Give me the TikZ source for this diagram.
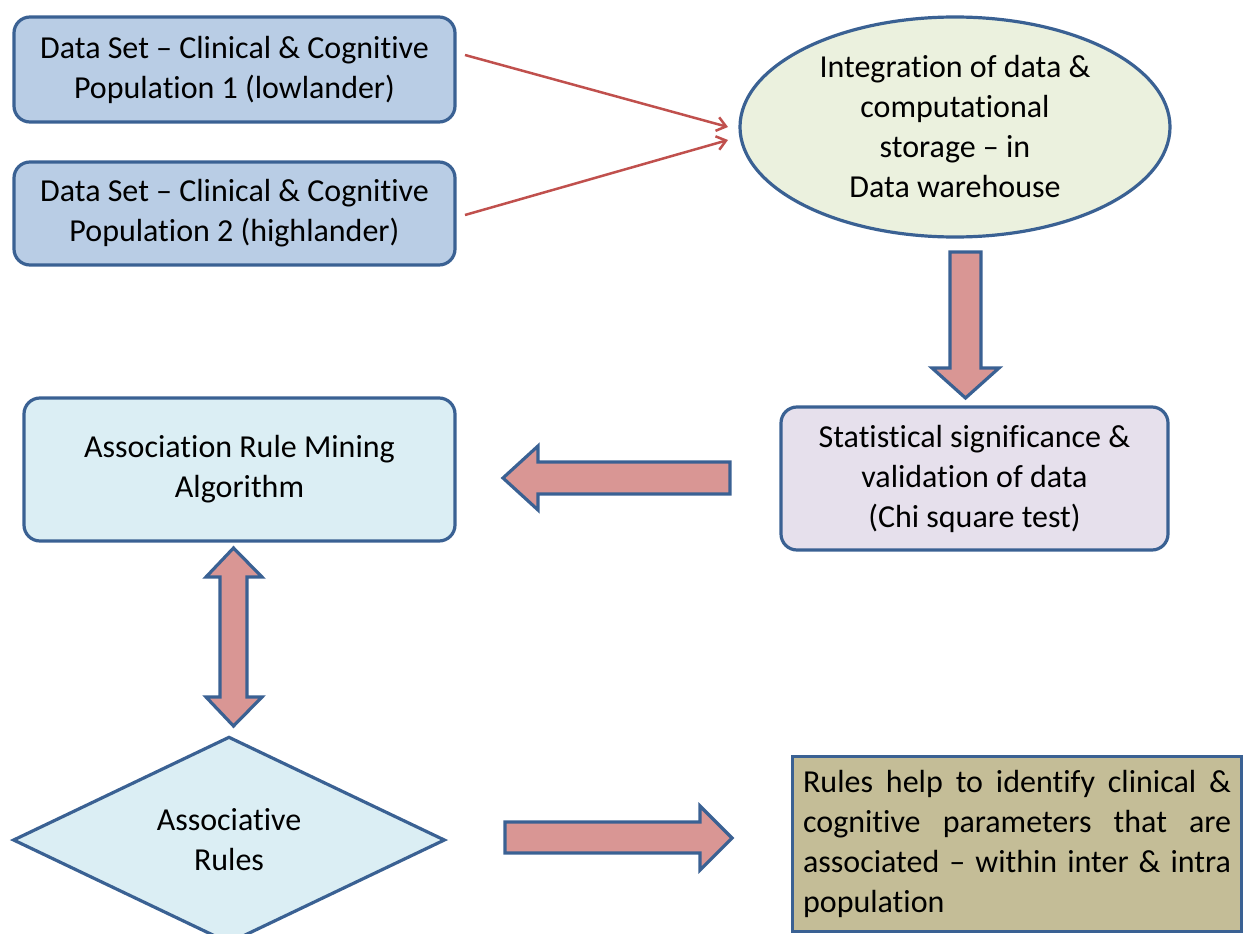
\documentclass[tikz,border=0pt]{standalone}
\usepackage{fontspec}
\setmainfont{Carlito}[Ligatures={TeX,NoCommon}]
\usetikzlibrary{shapes.geometric,arrows.meta,calc}

\definecolor{edgeblue}{HTML}{3A6193}
\definecolor{datablue}{HTML}{B9CDE5}
\definecolor{paleolive}{HTML}{EBF1DE}
\definecolor{lavender}{HTML}{E6E0EC}
\definecolor{palecyan}{HTML}{DBEEF4}
\definecolor{khaki}{HTML}{C4BD97}
\definecolor{rosefill}{HTML}{D99694}
\definecolor{linkred}{HTML}{C0504D}

\tikzset{
  txt/.style={font=\fontsize{32}{40}\selectfont, align=center, text=black},
  roundbox/.style={txt, draw=edgeblue, line width=3.2pt, rounded corners=16pt, inner sep=0pt},
  blockarrow/.style={draw=edgeblue, fill=rosefill, line width=3.2pt, line join=miter},
  thinlink/.style={draw=linkred, line width=2.5pt, -{Straight Barb[length=9pt,width=14pt,line width=2.5pt]}}
}

\begin{document}
\begin{tikzpicture}[x=1pt,y=-1pt]
\useasboundingbox (0,0) rectangle (1245,934);

% data sets
\node[roundbox, fill=datablue, minimum width=441pt, minimum height=105pt] (pop1) at (234.5,69.5)
  {Data Set – Clinical \& Cognitive\\Population 1 (lowlander)};
\node[roundbox, fill=datablue, minimum width=441pt, minimum height=103pt] (pop2) at (234.5,213.5)
  {Data Set – Clinical \& Cognitive\\Population 2 (highlander)};

% data warehouse
\node[txt, ellipse, draw=edgeblue, line width=3.2pt, fill=paleolive, inner sep=0pt,
      minimum width=430pt, minimum height=220pt] (dw) at (955,127)
  {Integration of data \&\\computational\\storage – in\\Data warehouse};

% statistics
\node[roundbox, fill=lavender, minimum width=387pt, minimum height=143pt] (stat) at (974.5,478.5)
  {Statistical significance \&\\validation of data\\(Chi square test)};

% mining algorithm
\node[roundbox, fill=palecyan, minimum width=431pt, minimum height=143pt] (arm) at (239.5,469.5)
  {Association Rule Mining\\Algorithm};

% rules
\node[txt, diamond, draw=edgeblue, line width=3.2pt, fill=palecyan, inner sep=0pt,
      minimum width=432pt, minimum height=200pt] (rules) at (229,840)
  {Associative\\Rules};

% outcome
\node[draw=edgeblue, line width=3.2pt, fill=khaki, minimum width=449pt, minimum height=175pt,
      inner sep=0pt, anchor=north west] (out) at (791,755) {};
\node[font=\fontsize{32}{40}\selectfont, text width=428pt, align=justify, inner sep=0pt] (outtext) at (out.center)
  {Rules help to identify clinical \&\linebreak cognitive parameters that are\linebreak associated – within inter \& intra\linebreak population};

% thin links into the warehouse
\coordinate (p1s) at (465,55);
\coordinate (p1e) at (728,127);
\coordinate (p2s) at (465,215);
\coordinate (p2e) at (728,140);
\draw[thinlink] (p1s) -- (p1e);
\draw[thinlink] (p2s) -- (p2e);

% warehouse -> statistics
\draw[blockarrow] (950,252) -- (981,252) -- (981,368) -- (999,368) -- (965.5,398) -- (932,368) -- (950,368) -- cycle;

% statistics -> mining
\draw[blockarrow] (730,462) -- (538,462) -- (538,446) -- (503,478) -- (538,510) -- (538,494) -- (730,494) -- cycle;

% mining <-> rules
\draw[blockarrow] (220,577) -- (206,577) -- (233.5,548) -- (262,577) -- (247,577) -- (247,697) -- (262,697) -- (233.5,726) -- (206,697) -- (220,697) -- cycle;

% rules -> outcome
\draw[blockarrow] (505,822) -- (700,822) -- (700,806) -- (732,838) -- (700,870) -- (700,853) -- (505,853) -- cycle;
\end{tikzpicture}
\end{document}
